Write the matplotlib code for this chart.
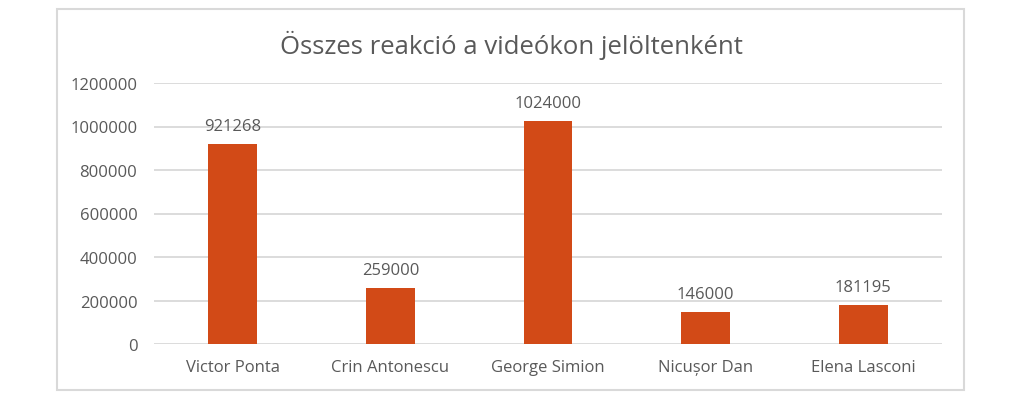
import matplotlib
matplotlib.use("Agg")
import matplotlib.pyplot as plt
from matplotlib.patches import Rectangle

categories = ["Victor Ponta", "Crin Antonescu", "George Simion", "Nicușor Dan", "Elena Lasconi"]
values = [921268, 259000, 1024000, 146000, 181195]
yticks = [0, 200000, 400000, 600000, 800000, 1000000, 1200000]
title = "Összes reakció a videókon jelöltenként"

W, H = 1030, 414
fig = plt.figure(figsize=(W / 100, H / 100), dpi=100)
plt.rcParams['font.family'] = ['Open Sans', 'DejaVu Sans']
txt = "#595959"
grid = "#D9D9D9"
bar_c = "#D24A17"

# chart border
fig.patches.append(Rectangle((57 / W, 1 - 391 / H), (964 - 57) / W, (391 - 10) / H,
                             transform=fig.transFigure, fill=False, edgecolor=grid, linewidth=1.5))

ax = fig.add_axes([154 / W, 1 - 345 / H, (942 - 154) / W, (345 - 84) / H])
x = list(range(len(categories)))
ax.bar(x, values, width=0.31, color=bar_c, zorder=3)
ax.set_xlim(-0.5, len(categories) - 0.5)
ax.set_ylim(0, 1200000)
ax.set_yticks(yticks)
ax.set_yticklabels([str(v) for v in yticks])
ax.set_xticks(x)
ax.set_xticklabels(categories)
ax.tick_params(axis='both', length=0, colors=txt, labelsize=12)
ax.tick_params(axis='y', pad=12)
ax.tick_params(axis='x', pad=11)
for s in ax.spines.values():
    s.set_visible(False)
ax.grid(axis='y', color=grid, linewidth=1.3, zorder=0)
ax.set_axisbelow(True)
for xi, v in zip(x, values):
    ax.annotate(str(v), (xi, v), xytext=(0, 13), textcoords='offset points',
                ha='center', va='center', color=txt, fontsize=12)

fig.text(511 / W, 1 - 45 / H, title, ha='center', va='center', color=txt, fontsize=18.5)

fig.savefig("out.png", dpi=100, facecolor="white")
